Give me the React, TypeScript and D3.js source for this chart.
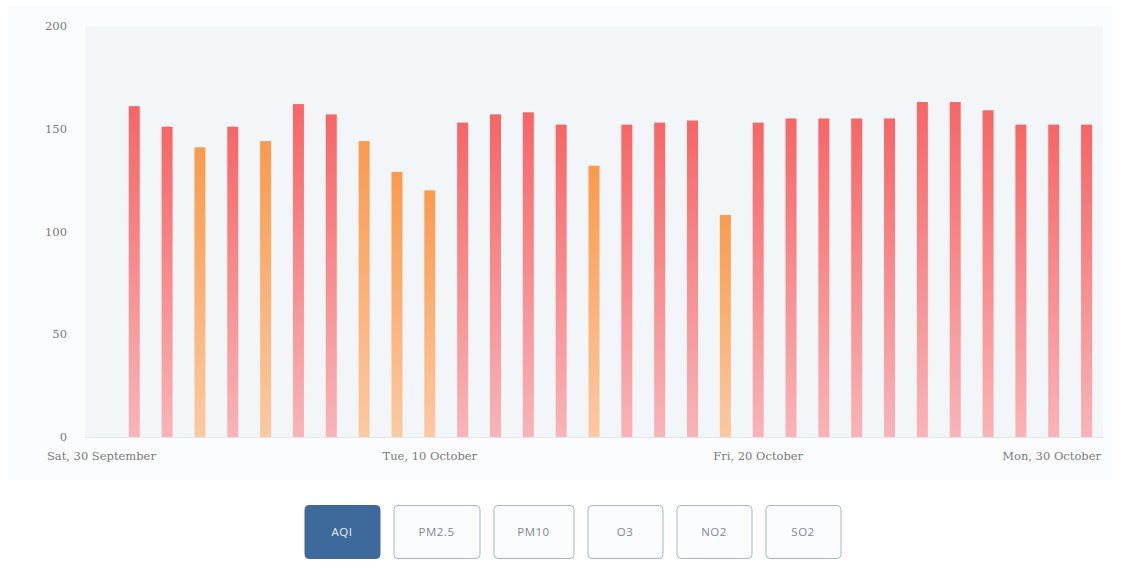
import React, { useEffect } from "react";
import * as d3 from "d3";

const dates: string[] = [
  "2023-10-01","2023-10-02","2023-10-03","2023-10-04","2023-10-05","2023-10-06","2023-10-07","2023-10-08","2023-10-09","2023-10-10",
  "2023-10-11","2023-10-12","2023-10-13","2023-10-14","2023-10-15","2023-10-16","2023-10-17","2023-10-18","2023-10-19","2023-10-20",
  "2023-10-21","2023-10-22","2023-10-23","2023-10-24","2023-10-25","2023-10-26","2023-10-27","2023-10-28","2023-10-29","2023-10-30",
];
const aqi: number[] = [
  161, 151, 141, 151, 144, 162, 157, 144, 129, 120,
  153, 157, 158, 152, 132, 152, 153, 154, 108, 153,
  155, 155, 155, 155, 163, 163, 159, 152, 152, 152,
];
const yTicks: number[] = [0, 50, 100, 150, 200];
const xTickDates: string[] = ["2023-09-30", "2023-10-10", "2023-10-20", "2023-10-30"];
const buttons: string[] = ["AQI", "PM2.5", "PM10", "O3", "NO2", "SO2"];
const activeButton = "AQI";

const W = 1136;
const H = 575;
const plot = { left: 85, right: 1103, top: 26, bottom: 437 };
const parse = d3.utcParse("%Y-%m-%d");
const fmt = d3.utcFormat("%a, %-d %B");

export default function App() {
  useEffect(() => {
    document.body.style.margin = "0";
  }, []);

  const first = parse(dates[0])!;
  const last = parse(dates[dates.length - 1])!;
  const x = d3
    .scaleUtc()
    .domain([d3.utcHour.offset(first, -36), d3.utcHour.offset(last, 12)])
    .range([plot.left, plot.right]);
  const y = d3.scaleLinear().domain([0, 200]).range([plot.bottom, plot.top]);
  const barW = 11;

  // buttons layout
  const btnW = buttons.map((b) => (b.length >= 5 ? 86 : b.length === 4 ? 80 : 75));
  const gap = 14;
  const totalW = d3.sum(btnW) + gap * (buttons.length - 1);
  let bx = 572.5 - totalW / 2;
  const btnPos = btnW.map((w) => {
    const p = bx;
    bx += w + gap;
    return p;
  });

  const labelFont = "'DejaVu Serif', 'Liberation Serif', serif";

  return (
    <svg width={W} height={H} style={{ display: "block", background: "#ffffff" }}>
      <defs>
        <linearGradient id="gRed" x1="0" y1="0" x2="0" y2="1">
          <stop offset="0" stopColor="#f86565" />
          <stop offset="1" stopColor="#f9b4b7" />
        </linearGradient>
        <linearGradient id="gOrange" x1="0" y1="0" x2="0" y2="1">
          <stop offset="0" stopColor="#fa9a4c" />
          <stop offset="1" stopColor="#fcc9a2" />
        </linearGradient>
      </defs>
      <rect x={8} y={6} width={1105} height={474} fill="#fbfcfd" />
      <rect
        x={plot.left}
        y={plot.top}
        width={plot.right - plot.left}
        height={plot.bottom - plot.top}
        fill="#f3f6f9"
      />
      <line x1={plot.left} x2={plot.right} y1={plot.bottom + 0.5} y2={plot.bottom + 0.5} stroke="#e3e7ec" />
      {yTicks.map((t) => (
        <text
          key={t}
          x={67}
          y={y(t) + 4}
          textAnchor="end"
          fontFamily={labelFont}
          fontSize={11.5}
          fill="#7a7a7a"
        >
          {t}
        </text>
      ))}
      {dates.map((d, i) => {
        const v = aqi[i];
        const cx = x(parse(d)!);
        return (
          <rect
            key={d}
            x={cx - barW / 2}
            y={y(v)}
            width={barW}
            height={y(0) - y(v)}
            fill={v > 150 ? "url(#gRed)" : "url(#gOrange)"}
          />
        );
      })}
      {xTickDates.map((d, i) => {
        const cx = x(parse(d)!);
        const isLast = i === xTickDates.length - 1;
        return (
          <text
            key={d}
            x={isLast ? plot.right - 2 : cx}
            y={460}
            textAnchor={isLast ? "end" : "middle"}
            fontFamily={labelFont}
            fontSize={11.5}
            fill="#7a7a7a"
          >
            {fmt(parse(d)!)}
          </text>
        );
      })}
      {buttons.map((b, i) => {
        const active = b === activeButton;
        return (
          <g key={b}>
            <rect
              x={btnPos[i] + 0.5}
              y={505.5}
              width={btnW[i]}
              height={53}
              rx={4}
              fill={active ? "#3e6a9b" : "#fbfcfd"}
              stroke={active ? "#3e6a9b" : "#a9b5c4"}
              strokeWidth={1}
            />
            <text
              x={btnPos[i] + btnW[i] / 2}
              y={536}
              textAnchor="middle"
              fontFamily="'Open Sans', 'Noto Sans', sans-serif"
              fontSize={11.5}
              letterSpacing={0.5}
              fill={active ? "#e8eef5" : "#7f8894"}
            >
              {b}
            </text>
          </g>
        );
      })}
    </svg>
  );
}
